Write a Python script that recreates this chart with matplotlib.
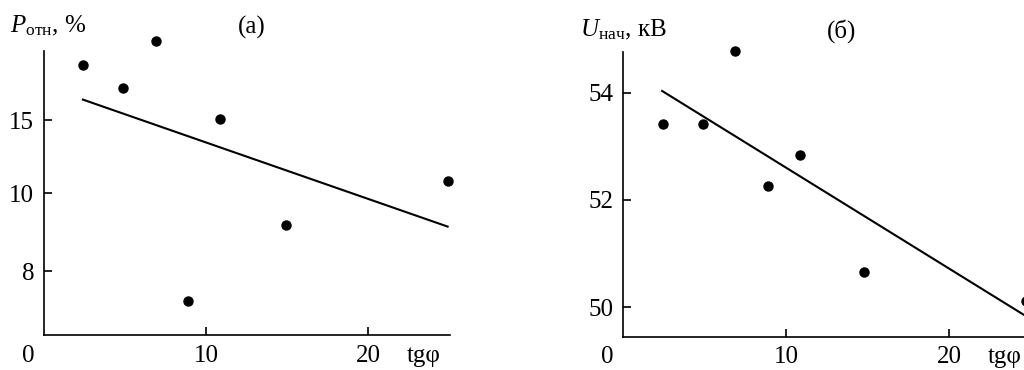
import numpy as np
import matplotlib
matplotlib.use("Agg")
import matplotlib.pyplot as plt

plt.rcParams["font.family"] = ["Liberation Serif", "DejaVu Serif"]
plt.rcParams["mathtext.fontset"] = "custom"
plt.rcParams["mathtext.rm"] = "Liberation Serif"
plt.rcParams["mathtext.it"] = "Liberation Serif:italic"
plt.rcParams["font.size"] = 18

# (a) relative losses vs tg phi
tg_a = [2.4, 4.9, 6.9, 8.9, 10.85, 14.9, 24.9]
p_otn = [18.8, 17.2, 20.4, 7.23, 15.05, 9.18, 10.8]
fit_a_x = [2.4, 24.9]
fit_a_y = [16.4, 9.14]
yticks_a = [8, 10, 15]

# (б) inception voltage vs tg phi
tg_b = [2.45, 4.9, 6.9, 8.88, 10.84, 14.77, 24.7]
u_nach = [53.42, 53.42, 54.78, 52.25, 52.83, 50.65, 50.12]
fit_b_x = [2.4, 24.9]
fit_b_y = [54.03, 49.80]
yticks_b = [50, 52, 54]

xticks = [10, 20]

# the (a) axis is not uniform: 8-10-15 sit at about equal spacing
kv = np.array([8.0, 10.0, 15.0])
kp = np.array([0.0, 78.0, 151.0])
s_lo = 39.0
s_hi = 14.6


def fwd(y):
    y = np.asarray(y, float)
    out = np.interp(y, kv, kp)
    out = np.where(y < kv[0], kp[0] + (y - kv[0]) * s_lo, out)
    out = np.where(y > kv[-1], kp[-1] + (y - kv[-1]) * s_hi, out)
    return out


def inv(p):
    p = np.asarray(p, float)
    out = np.interp(p, kp, kv)
    out = np.where(p < kp[0], kv[0] + (p - kp[0]) / s_lo, out)
    out = np.where(p > kp[-1], kv[-1] + (p - kp[-1]) / s_hi, out)
    return out


fig = plt.figure(figsize=(10.24, 3.7), dpi=100)
ax1 = fig.add_axes([0.043, 0.0946, 0.3965, 0.7684])
ax2 = fig.add_axes([0.6084, 0.09, 0.3987, 0.7686])

for ax in (ax1, ax2):
    for s in ("top", "right"):
        ax.spines[s].set_visible(False)
    for s in ("left", "bottom"):
        ax.spines[s].set_linewidth(1.2)
    ax.tick_params(direction="in", length=6, width=1.2, pad=7, labelsize=18)
    ax.set_xticks(xticks)
    ax.annotate("0", xy=(0, 0), xycoords="axes fraction", xytext=(-11.5, -7),
                textcoords="offset points", ha="center", va="top", fontsize=18)
    ax.annotate("tgφ", xy=(23.4, 0), xycoords=("data", "axes fraction"), xytext=(0, -7),
                textcoords="offset points", ha="center", va="top", fontsize=18)

ax1.set_yscale("function", functions=(fwd, inv))
ax1.set_xlim(0, 25.05)
ax1.set_ylim(6.36, 19.75)
ax1.set_yticks(yticks_a)
ax1.set_yticklabels([str(v) for v in yticks_a])
ax1.yaxis.set_minor_locator(matplotlib.ticker.NullLocator())
ax1.plot(fit_a_x, fit_a_y, color="black", lw=1.5)
ax1.plot(tg_a, p_otn, "o", color="black", ms=6.5, clip_on=False)

ax2.set_xlim(0, 25.05)
ax2.set_ylim(49.45, 54.75)
ax2.set_yticks(yticks_b)
ax2.plot(fit_b_x, fit_b_y, color="black", lw=1.5)
ax2.plot(tg_b, u_nach, "o", color="black", ms=6.5, clip_on=False)

fig.text(0.01, 0.93, r"$P_{\mathrm{отн}}$, $\%$", ha="left", va="center", fontsize=18)
fig.text(252 / 1024, 0.925, "(a)", ha="center", va="center", fontsize=18)
fig.text(580 / 1024, 0.918, r"$U_{\mathrm{нач}}$, кВ", ha="left", va="center", fontsize=18)
fig.text(842 / 1024, 0.915, "(б)", ha="center", va="center", fontsize=18)

plt.savefig("out.png", dpi=100)
